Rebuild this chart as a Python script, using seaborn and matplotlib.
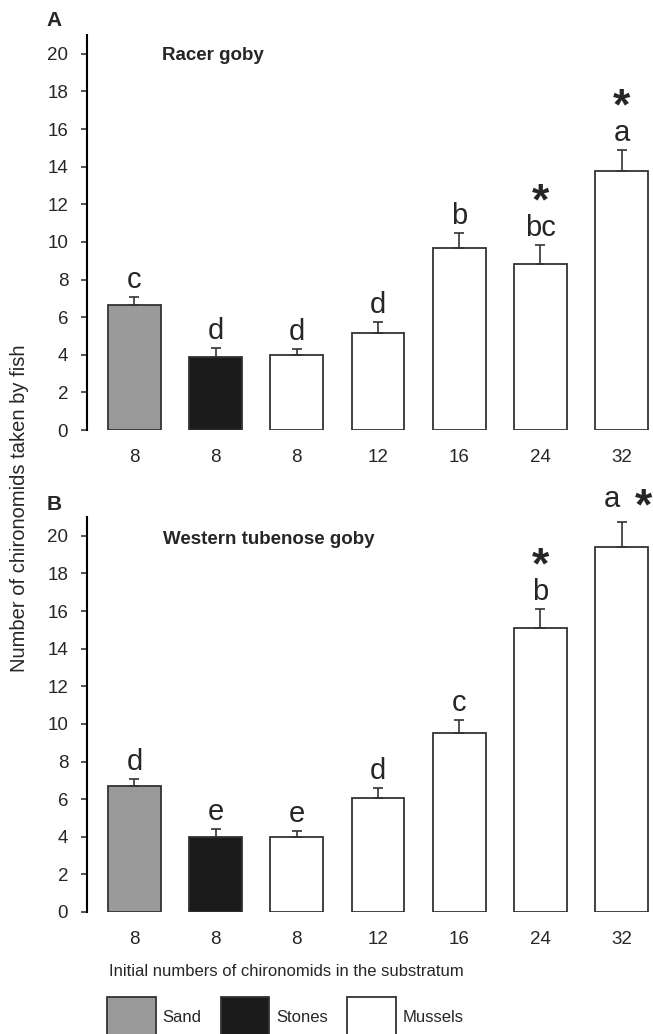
import numpy as np
import pandas as pd
import seaborn as sns
import matplotlib.pyplot as plt

conditions = ['Sand 8', 'Stones 8', 'Mussels 8', 'Mussels 12', 'Mussels 16', 'Mussels 24', 'Mussels 32']
substrate = ['Sand', 'Stones', 'Mussels', 'Mussels', 'Mussels', 'Mussels', 'Mussels']
tick_labels = ['8', '8', '8', '12', '16', '24', '32']

racer_mean = [6.65, 3.90, 3.97, 5.14, 9.65, 8.83, 13.78]
racer_err = [0.41, 0.45, 0.34, 0.59, 0.83, 1.03, 1.13]
racer_letters = ['c', 'd', 'd', 'd', 'b', 'bc', 'a']
racer_star = ['', '', '', '', '', 'above', 'above']

tubenose_mean = [6.70, 3.97, 3.97, 6.06, 9.54, 15.12, 19.41]
tubenose_err = [0.37, 0.44, 0.36, 0.55, 0.65, 1.01, 1.30]
tubenose_letters = ['d', 'e', 'e', 'd', 'c', 'b', 'a']
tubenose_star = ['', '', '', '', '', 'above', 'right']

palette = {'Sand': '#9a9a9a', 'Stones': '#1b1b1b', 'Mussels': 'white'}

sns.set_style('white')
plt.rcParams['font.family'] = ['Liberation Sans', 'DejaVu Sans']

W, H = 653, 1034
fig = plt.figure(figsize=(W / 100, H / 100), dpi=100)
ax_a = fig.add_axes([87 / W, 1 - 430 / H, 563 / W, 395 / H])
ax_b = fig.add_axes([87 / W, 1 - 912 / H, 563 / W, 395 / H])


def draw_panel(ax, mean, err, letters, stars, legend):
    df = pd.DataFrame({'condition': conditions, 'mean': mean, 'substrate': substrate})
    sns.barplot(data=df, x='condition', y='mean', hue='substrate', palette=palette,
                dodge=False, width=0.65, edgecolor='#333333', linewidth=1.3,
                errorbar=None, legend=legend, ax=ax)
    x = np.arange(len(mean))
    ax.errorbar(x, mean, yerr=[np.zeros(len(err)), err], fmt='none',
                ecolor='#333333', elinewidth=1.2, capsize=3.5, capthick=1.2)
    for i in range(len(mean)):
        top = mean[i] + err[i]
        if stars[i] == 'right':
            ax.annotate(letters[i], (i, top), xytext=(-7, 11), textcoords='offset points',
                        ha='center', va='baseline', fontsize=21, annotation_clip=False)
            ax.annotate('*', (i, top), xytext=(16, 2), textcoords='offset points',
                        ha='center', va='baseline', fontsize=32, fontweight='bold',
                        annotation_clip=False)
        else:
            ax.annotate(letters[i], (i, top), xytext=(0, 6.5), textcoords='offset points',
                        ha='center', va='baseline', fontsize=21)
            if stars[i] == 'above':
                ax.annotate('*', (i, top), xytext=(0, 21.5), textcoords='offset points',
                            ha='center', va='baseline', fontsize=32, fontweight='bold')
    ax.set_xlim(-0.585, 6.35)
    ax.set_ylim(0, 21)
    ax.set_yticks(range(0, 21, 2))
    ax.set_xticks(x, tick_labels)
    ax.set_xlabel('')
    ax.set_ylabel('')
    ax.tick_params(axis='y', length=4.5, width=1.1, pad=9, labelsize=13.5, direction='out', left=True)
    ax.tick_params(axis='x', length=0, pad=14, labelsize=13.5)
    sns.despine(ax=ax, bottom=True)
    ax.spines['left'].set_linewidth(1.5)
    ax.spines['left'].set_color('black')


draw_panel(ax_a, racer_mean, racer_err, racer_letters, racer_star, False)
draw_panel(ax_b, tubenose_mean, tubenose_err, tubenose_letters, tubenose_star, True)

sns.move_legend(ax_b, 'upper center', bbox_to_anchor=(0.352, -0.1775), ncol=3,
                frameon=False, title=None, fontsize=12, handlelength=2.93,
                handleheight=3.3, handletextpad=0.4, columnspacing=1.15)

fig.text(54 / W, 1 - 20 / H, 'A', fontsize=15, fontweight='bold', ha='center', va='center')
fig.text(54 / W, 1 - 504 / H, 'B', fontsize=15, fontweight='bold', ha='center', va='center')
fig.text(162 / W, 1 - 56 / H, 'Racer goby', fontsize=13.5, fontweight='bold', ha='left', va='center')
fig.text(163 / W, 1 - 540 / H, 'Western tubenose goby', fontsize=13.5, fontweight='bold',
         ha='left', va='center')
fig.text(20 / W, 1 - 508 / H, 'Number of chironomids taken by fish', fontsize=14.5,
         rotation=90, ha='center', va='center')
fig.text(286 / W, 1 - 972 / H, 'Initial numbers of chironomids in the substratum',
         fontsize=12, ha='center', va='center')

fig.savefig('out.png', dpi=100)
